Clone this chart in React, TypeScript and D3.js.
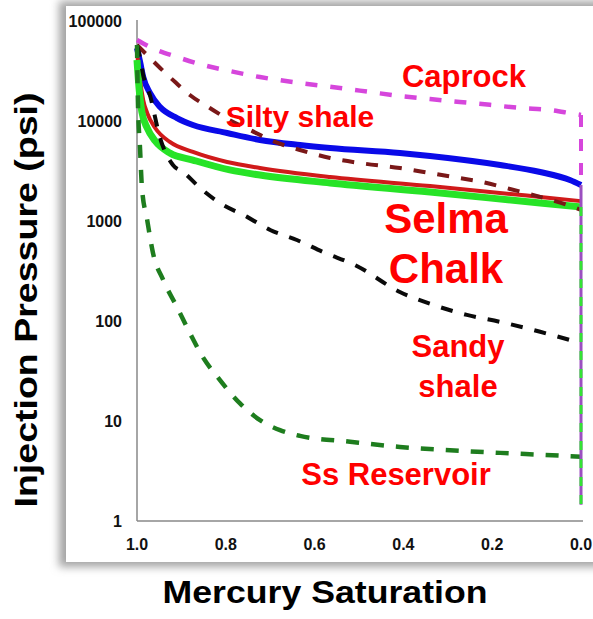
import React from "react";
import * as d3 from "d3";

// Mercury injection capillary pressure curves (pressure vs. mercury saturation)
const capSat = [1.0, 0.971, 0.91, 0.851, 0.791, 0.723, 0.633, 0.543, 0.475, 0.408, 0.34, 0.273, 0.205, 0.137, 0.07, 0.025, 0.0];
const capPsi = [64600, 55000, 43700, 36300, 31600, 27500, 24000, 21400, 19500, 17800, 16600, 15500, 14500, 13500, 12900, 12000, 11500];

const siltySat = [1.0, 0.982, 0.948, 0.914, 0.881, 0.836, 0.791, 0.745, 0.7, 0.633, 0.565, 0.498, 0.408, 0.34, 0.273, 0.221, 0.16, 0.092, 0.032, 0.0];
const siltyPsi = [57500, 47900, 33900, 24500, 18200, 13500, 10200, 8130, 6460, 5130, 4270, 3800, 3390, 3020, 2690, 2450, 2090, 1740, 1450, 1290];

const chalkBlueSat = [1.0, 0.993, 0.986, 0.971, 0.948, 0.91, 0.874, 0.797, 0.723, 0.633, 0.565, 0.408, 0.34, 0.182, 0.092, 0.025, 0.0];
const chalkBluePsi = [53700, 38900, 27500, 19100, 13800, 10700, 9120, 7590, 6460, 5750, 5370, 4790, 4470, 3630, 3090, 2570, 2290];

const chalkRedSat = [1.0, 0.993, 0.986, 0.977, 0.959, 0.926, 0.874, 0.797, 0.723, 0.565, 0.34, 0.092, 0.0];
const chalkRedPsi = [48980, 25700, 16200, 12000, 8510, 6170, 4900, 3890, 3390, 2750, 2240, 1740, 1580];

const chalkGreenSat = [1.0, 0.995, 0.989, 0.977, 0.959, 0.926, 0.874, 0.791, 0.723, 0.565, 0.34, 0.092, 0.0];
const chalkGreenPsi = [40700, 20400, 12300, 8510, 6310, 4790, 4070, 3240, 2880, 2400, 1950, 1510, 1380];

const sandySat = [1.0, 0.993, 0.986, 0.971, 0.948, 0.919, 0.896, 0.858, 0.813, 0.752, 0.7, 0.64, 0.581, 0.505, 0.408, 0.333, 0.257, 0.182, 0.092, 0.0];
const sandyPsi = [57500, 42700, 28800, 18200, 6760, 3630, 3090, 2140, 1510, 1100, 813, 646, 490, 355, 195, 145, 115, 98, 78, 60];

const reservoirSat = [1.0, 0.998, 0.993, 0.989, 0.977, 0.964, 0.941, 0.91, 0.881, 0.851, 0.82, 0.768, 0.723, 0.678, 0.633, 0.52, 0.408, 0.295, 0.182, 0.092, 0.0];
const reservoirPsi = [57500, 16200, 5130, 2190, 1020, 479, 257, 138, 76, 43, 28, 15, 10.2, 8.1, 7.1, 6.2, 5.5, 5.1, 4.8, 4.6, 4.4];

// Vertical closures at zero saturation
const dropTop = [11500, 2290, 1380];
const dropBottom = [2290, 1.45, 1.45];

const yTicks = [1, 10, 100, 1000, 10000, 100000];
const xTicks = [1.0, 0.8, 0.6, 0.4, 0.2, 0.0];

const seriesNames = ["Caprock", "Silty shale", "Selma Chalk", "Sandy shale", "Ss Reservoir"];

type Series = {
  sat: number[];
  psi: number[];
  color: string;
  width: number;
  dash?: string;
};

const series: Series[] = [
  { sat: chalkBlueSat, psi: chalkBluePsi, color: "#0a0ae8", width: 6 },
  { sat: chalkRedSat, psi: chalkRedPsi, color: "#d01a1a", width: 4 },
  { sat: chalkGreenSat, psi: chalkGreenPsi, color: "#27e327", width: 7 },
  { sat: capSat, psi: capPsi, color: "#d646dc", width: 4.5, dash: "12 13" },
  { sat: siltySat, psi: siltyPsi, color: "#7a1818", width: 4, dash: "12 12" },
  { sat: sandySat, psi: sandyPsi, color: "#0a0a0a", width: 4, dash: "12 12" },
  { sat: reservoirSat, psi: reservoirPsi, color: "#1e7d1e", width: 4.5, dash: "13 12" },
];

const drops = [
  { color: "#d646dc", width: 4, dash: "12 12" },
  { color: "#9b4fc0", width: 3, dash: undefined },
  { color: "#33e333", width: 3, dash: "9 9" },
];

const labels = [
  { text: seriesNames[0], x: 464, y: 87, size: 31 },
  { text: seriesNames[1], x: 300, y: 127, size: 30 },
  { text: "Selma", x: 446, y: 233, size: 42 },
  { text: "Chalk", x: 446, y: 283, size: 42 },
  { text: "Sandy", x: 458, y: 357, size: 31 },
  { text: "shale", x: 458, y: 397, size: 31 },
  { text: seriesNames[4], x: 396, y: 485, size: 31 },
];

const FONT = "'Liberation Sans', Arial, Helvetica, sans-serif";

export default function App() {
  const W = 593;
  const H = 619;
  const x = d3.scaleLinear().domain([1, 0]).range([137, 581]);
  const y = d3.scaleLog().domain([1, 100000]).range([521, 21]);

  const line = d3
    .line<[number, number]>()
    .x((d) => x(d[0]))
    .y((d) => y(d[1]))
    .curve(d3.curveMonotoneX);

  const fmtX = d3.format(".1f");

  return (
    <svg
      width={W}
      height={H}
      style={{ position: "absolute", left: 0, top: 0, display: "block", background: "#fff" }}
    >
      <defs>
        <filter id="panelShadow" x="-10%" y="-10%" width="120%" height="120%">
          <feGaussianBlur stdDeviation="4" />
        </filter>
        <clipPath id="plotClip">
          <rect x={0} y={0} width={W} height={H} />
        </clipPath>
      </defs>

      {/* framed panel with soft shadow */}
      <rect x={59} y={1} width={560} height={566} fill="#a4a4a4" filter="url(#panelShadow)" />
      <rect x={66} y={6} width={560} height={556} fill="#ffffff" />

      {/* axes */}
      <line x1={x(1)} x2={x(1)} y1={y(100000) - 1} y2={y(1)} stroke="#888" strokeWidth={1.5} />
      <line x1={x(1)} x2={x(0) + 2} y1={y(1)} y2={y(1)} stroke="#888" strokeWidth={1.5} />

      {yTicks.map((t) => (
        <text
          key={"y" + t}
          x={122}
          y={y(t) + 6}
          textAnchor="end"
          fontFamily={FONT}
          fontWeight="bold"
          fontSize={16}
          fill="#111"
        >
          {String(t)}
        </text>
      ))}
      {xTicks.map((t) => (
        <text
          key={"x" + t}
          x={x(t)}
          y={550}
          textAnchor="middle"
          fontFamily={FONT}
          fontWeight="bold"
          fontSize={16}
          fill="#111"
        >
          {fmtX(t)}
        </text>
      ))}

      {/* curves */}
      <g clipPath="url(#plotClip)" fill="none" strokeLinecap="butt" strokeLinejoin="round">
        {series.map((s, i) => (
          <path
            key={i}
            d={line(s.sat.map((v, j) => [v, s.psi[j]] as [number, number])) || ""}
            stroke={s.color}
            strokeWidth={s.width}
            strokeDasharray={s.dash}
          />
        ))}
        {drops.map((d, i) => (
          <line
            key={"d" + i}
            x1={x(0)}
            x2={x(0)}
            y1={y(dropTop[i])}
            y2={y(dropBottom[i])}
            stroke={d.color}
            strokeWidth={d.width}
            strokeDasharray={d.dash}
          />
        ))}
      </g>

      {/* curve annotations */}
      {labels.map((l, i) => (
        <text
          key={"l" + i}
          x={l.x}
          y={l.y}
          textAnchor="middle"
          fontFamily={FONT}
          fontWeight="bold"
          fontSize={l.size}
          fill="#ff0000"
        >
          {l.text}
        </text>
      ))}

      {/* axis titles */}
      <text
        x={325}
        y={603}
        textAnchor="middle"
        fontFamily={FONT}
        fontWeight="bold"
        fontSize={32}
        textLength={325}
        lengthAdjust="spacingAndGlyphs"
        fill="#000"
      >
        Mercury Saturation
      </text>
      <text
        transform="translate(37,300) rotate(-90)"
        textAnchor="middle"
        fontFamily={FONT}
        fontWeight="bold"
        fontSize={32}
        textLength={415}
        lengthAdjust="spacingAndGlyphs"
        fill="#000"
      >
        Injection Pressure (psi)
      </text>
    </svg>
  );
}
